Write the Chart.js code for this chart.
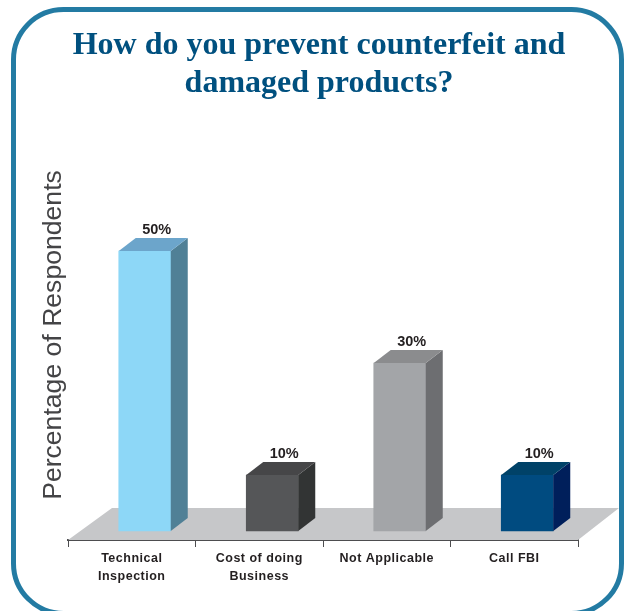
<!DOCTYPE html>
<html>
<head>
<meta charset="utf-8">
<style>
  html, body { margin: 0; padding: 0; background: #fff; overflow: hidden; }
  #wrap { width: 624px; height: 611px; }
</style>
<script src="https://cdn.jsdelivr.net/npm/chart.js@4"></script>
</head>
<body>
<div id="wrap"><canvas id="myChart"></canvas></div>
<script>
const categories = [['Technical', 'Inspection'], ['Cost of doing', 'Business'], ['Not Applicable', ''], ['Call FBI', '']];
const percents = [50, 10, 30, 10];
const frontColors = ['#8dd7f7', '#555658', '#a3a5a8', '#004b80'];
const sideColors = ['#508096', '#323434', '#6d6e71', '#001f5b'];
const topColors = ['#6ca5cb', '#464648', '#8b8c8e', '#004268'];

// fake 3d look: how far the back of a bar sits from the front
const DEPTH_X = 17, DEPTH_Y = 13;
const BAR_SHIFT = 13;

const frame = {
  id: 'frame',
  beforeDraw(chart) {
    const ctx = chart.ctx;
    ctx.save();
    ctx.strokeStyle = '#237ba3';
    ctx.lineWidth = 5;
    ctx.beginPath();
    ctx.roundRect(13.5, 9.5, 608, 604, 50);
    ctx.stroke();
    ctx.restore();
  }
};

const floor3d = {
  id: 'floor3d',
  beforeDatasetsDraw(chart) {
    const ctx = chart.ctx, x = chart.scales.x, y = chart.scales.y;
    ctx.save();
    ctx.fillStyle = '#c6c7c9';
    ctx.beginPath();
    ctx.moveTo(x.left, y.bottom);
    ctx.lineTo(x.left + 44, y.bottom - 32);
    ctx.lineTo(x.right + 41, y.bottom - 32);
    ctx.lineTo(x.right, y.bottom);
    ctx.closePath();
    ctx.fill();
    ctx.restore();
    // bars sit right of the category centre, like the original
    ctx.save();
    ctx.translate(BAR_SHIFT, 0);
  },
  afterDatasetsDraw(chart) {
    const ctx = chart.ctx;
    chart.getDatasetMeta(0).data.forEach((bar, i) => {
      const l = bar.x - bar.width / 2, r = bar.x + bar.width / 2;
      ctx.fillStyle = sideColors[i];
      ctx.beginPath();
      ctx.moveTo(r, bar.y);
      ctx.lineTo(r + DEPTH_X, bar.y - DEPTH_Y);
      ctx.lineTo(r + DEPTH_X, bar.base - DEPTH_Y);
      ctx.lineTo(r, bar.base);
      ctx.closePath();
      ctx.fill();
      ctx.fillStyle = topColors[i];
      ctx.beginPath();
      ctx.moveTo(l, bar.y);
      ctx.lineTo(l + DEPTH_X, bar.y - DEPTH_Y);
      ctx.lineTo(r + DEPTH_X, bar.y - DEPTH_Y);
      ctx.lineTo(r, bar.y);
      ctx.closePath();
      ctx.fill();
      ctx.fillStyle = '#231f20';
      ctx.font = 'bold 14.5px "Liberation Sans"';
      ctx.textAlign = 'center';
      ctx.textBaseline = 'middle';
      ctx.fillText(percents[i] + '%', bar.x + 12, bar.y - 21);
    });
    ctx.restore();
  }
};

const chart = new Chart(document.getElementById('myChart').getContext('2d'), {
  type: 'bar',
  data: {
    labels: categories,
    datasets: [{
      data: percents,
      backgroundColor: frontColors,
      barThickness: 52
    }]
  },
  plugins: [frame, floor3d],
  options: {
    responsive: true,
    maintainAspectRatio: false,
    animation: false,
    layout: { padding: { left: 14, right: 0, top: 0, bottom: 0 } },
    plugins: {
      legend: { display: false },
      tooltip: { enabled: false },
      title: {
        display: true,
        text: ['How do you prevent counterfeit and', 'damaged products?'],
        color: '#00507f',
        font: { family: '"Liberation Serif"', size: 32, weight: 'bold', lineHeight: 38 / 32 },
        padding: { top: 27, bottom: 27 }
      }
    },
    scales: {
      x: {
        afterFit: s => { s.height = 71; },
        border: { color: '#4d4d4f', width: 2 },
        grid: { offset: true, drawOnChartArea: false, tickLength: 7, tickColor: '#4d4d4f' },
        ticks: {
          color: '#231f20',
          maxRotation: 0,
          autoSkip: false,
          padding: 3,
          font: { family: '"Liberation Sans"', size: 12.5, weight: 'bold', lineHeight: 18 / 12.5 }
        }
      },
      y: {
        min: -1.6,
        max: 71.6,
        afterFit: s => { s.width = 54; },
        border: { display: false },
        grid: { display: false },
        ticks: { display: false },
        title: {
          display: true,
          text: 'Percentage of Respondents',
          color: '#444446',
          padding: { top: 25, bottom: 0 },
          font: { family: '"Liberation Sans"', size: 26.6, weight: 'normal', lineHeight: 1.1 }
        }
      },
      // empty axis, only holds the space to the right of the plot
      yRight: {
        position: 'right',
        afterFit: s => { s.width = 46; },
        border: { display: false },
        grid: { display: false },
        ticks: { display: false }
      }
    }
  }
});

// the category labels are letter-spaced in the original
const drawLabels = chart.scales.x.drawLabels;
chart.scales.x.drawLabels = function (area) {
  chart.ctx.letterSpacing = '0.5px';
  drawLabels.call(this, area);
  chart.ctx.letterSpacing = '0px';
};
chart.draw();
</script>
</body>
</html>
